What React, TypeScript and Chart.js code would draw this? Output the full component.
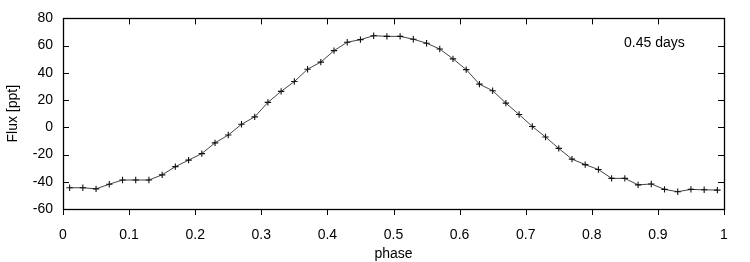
import React, { useEffect, useRef } from "react";
import { Chart, registerables } from "chart.js";

Chart.register(...registerables);

const phases: number[] = [
  0.01, 0.03, 0.05, 0.07, 0.09, 0.11, 0.13, 0.15, 0.17, 0.19,
  0.21, 0.23, 0.25, 0.27, 0.29, 0.31, 0.33, 0.35, 0.37, 0.39,
  0.41, 0.43, 0.45, 0.47, 0.49, 0.51, 0.53, 0.55, 0.57, 0.59,
  0.61, 0.63, 0.65, 0.67, 0.69, 0.71, 0.73, 0.75, 0.77, 0.79,
  0.81, 0.83, 0.85, 0.87, 0.89, 0.91, 0.93, 0.95, 0.97, 0.99,
];
const flux: number[] = [
  -44.4, -44.4, -45.2, -41.8, -38.7, -38.7, -38.7, -34.9, -28.9, -24.1,
  -19.3, -11.4, -5.7, 2.2, 7.7, 18.3, 26.4, 33.6, 42.7, 47.9,
  56.3, 62.5, 64.4, 67.3, 66.8, 66.8, 64.7, 61.8, 57.5, 50.3,
  42.4, 31.7, 26.9, 17.8, 9.4, 0.6, -7.1, -15.5, -23.4, -27.4,
  -31.0, -37.5, -37.5, -42.3, -41.6, -45.6, -47.3, -45.6, -45.9, -46.1,
];
const xTicks: number[] = [0, 0.1, 0.2, 0.3, 0.4, 0.5, 0.6, 0.7, 0.8, 0.9, 1];
const yTicks: number[] = [-60, -40, -20, 0, 20, 40, 60, 80];
const periodLabel = "0.45 days";
const xTitle = "phase";
const yTitle = "Flux [ppt]";

const FONT = "'Liberation Sans', Arial, sans-serif";
const FS = 14;

const framePlugin = {
  id: "frame",
  afterDraw(chart: any) {
    const { ctx, chartArea } = chart;
    const { left, right, top, bottom } = chartArea;
    const xs = chart.scales.x;
    const ys = chart.scales.y;
    const tl = 6;
    ctx.save();
    ctx.strokeStyle = "#000";
    ctx.lineWidth = 1;
    ctx.beginPath();
    for (const v of xTicks) {
      const px = Math.round(xs.getPixelForValue(v)) + 0.5;
      ctx.moveTo(px, bottom);
      ctx.lineTo(px, bottom + tl);
      ctx.moveTo(px, top);
      ctx.lineTo(px, top + tl);
    }
    for (const v of yTicks) {
      const py = Math.round(ys.getPixelForValue(v)) + 0.5;
      ctx.moveTo(left, py);
      ctx.lineTo(left + tl, py);
      ctx.moveTo(right, py);
      ctx.lineTo(right - tl, py);
    }
    ctx.stroke();
    ctx.lineWidth = 1.3;
    ctx.strokeRect(Math.round(left) + 0.5, Math.round(top) + 0.5, Math.round(right - left), Math.round(bottom - top));
    ctx.fillStyle = "#000";
    ctx.font = `${FS}px ${FONT}`;
    ctx.textAlign = "left";
    ctx.textBaseline = "middle";
    ctx.fillText(periodLabel, 624, 43);
    ctx.restore();
  },
};

export default function App() {
  const ref = useRef<HTMLCanvasElement | null>(null);
  useEffect(() => {
    if (!ref.current) return;
    const chart = new Chart(ref.current, {
      type: "line",
      data: {
        datasets: [
          {
            data: phases.map((p, i) => ({ x: p, y: flux[i] })),
            borderColor: "#444",
            borderWidth: 1,
            pointStyle: "cross",
            pointRadius: 3.2,
            pointBorderWidth: 1.1,
            pointBorderColor: "#111",
            pointBackgroundColor: "#111",
            tension: 0,
            fill: false,
          },
        ],
      },
      options: {
        animation: false,
        responsive: false,
        maintainAspectRatio: false,
        layout: { padding: { top: 14, right: 26, left: 0, bottom: 0 } },
        plugins: { legend: { display: false }, tooltip: { enabled: false } },
        scales: {
          x: {
            type: "linear",
            min: 0,
            max: 1,
            afterBuildTicks: (s: any) => {
              s.ticks = xTicks.map((v) => ({ value: v }));
            },
            afterFit: (s: any) => {
              s.height = 53;
            },
            grid: { display: false, drawTicks: false },
            border: { display: false },
            ticks: {
              padding: 18,
              color: "#000",
              font: { family: FONT, size: FS },
              maxRotation: 0,
              autoSkip: false,
              callback: (v: any) => String(Number(Number(v).toFixed(1))),
            },
            title: {
              display: true,
              text: xTitle,
              color: "#000",
              font: { family: FONT, size: FS },
              padding: { top: -1, bottom: -1 },
            },
          },
          y: {
            type: "linear",
            min: -60,
            max: 80,
            afterBuildTicks: (s: any) => {
              s.ticks = yTicks.map((v) => ({ value: v }));
            },
            afterFit: (s: any) => {
              s.width = 63;
            },
            grid: { display: false, drawTicks: false },
            border: { display: false },
            ticks: {
              padding: 10,
              color: "#000",
              font: { family: FONT, size: FS },
              autoSkip: false,
            },
            title: {
              display: true,
              text: yTitle,
              color: "#000",
              font: { family: FONT, size: FS },
              padding: { top: 5, bottom: 0 },
            },
          },
        },
      },
      plugins: [framePlugin],
    });
    return () => chart.destroy();
  }, []);
  return (
    <div style={{ position: "absolute", left: 0, top: 0, width: 750, height: 262, background: "#fff" }}>
      <canvas ref={ref} width={750} height={262} style={{ display: "block" }} />
    </div>
  );
}
